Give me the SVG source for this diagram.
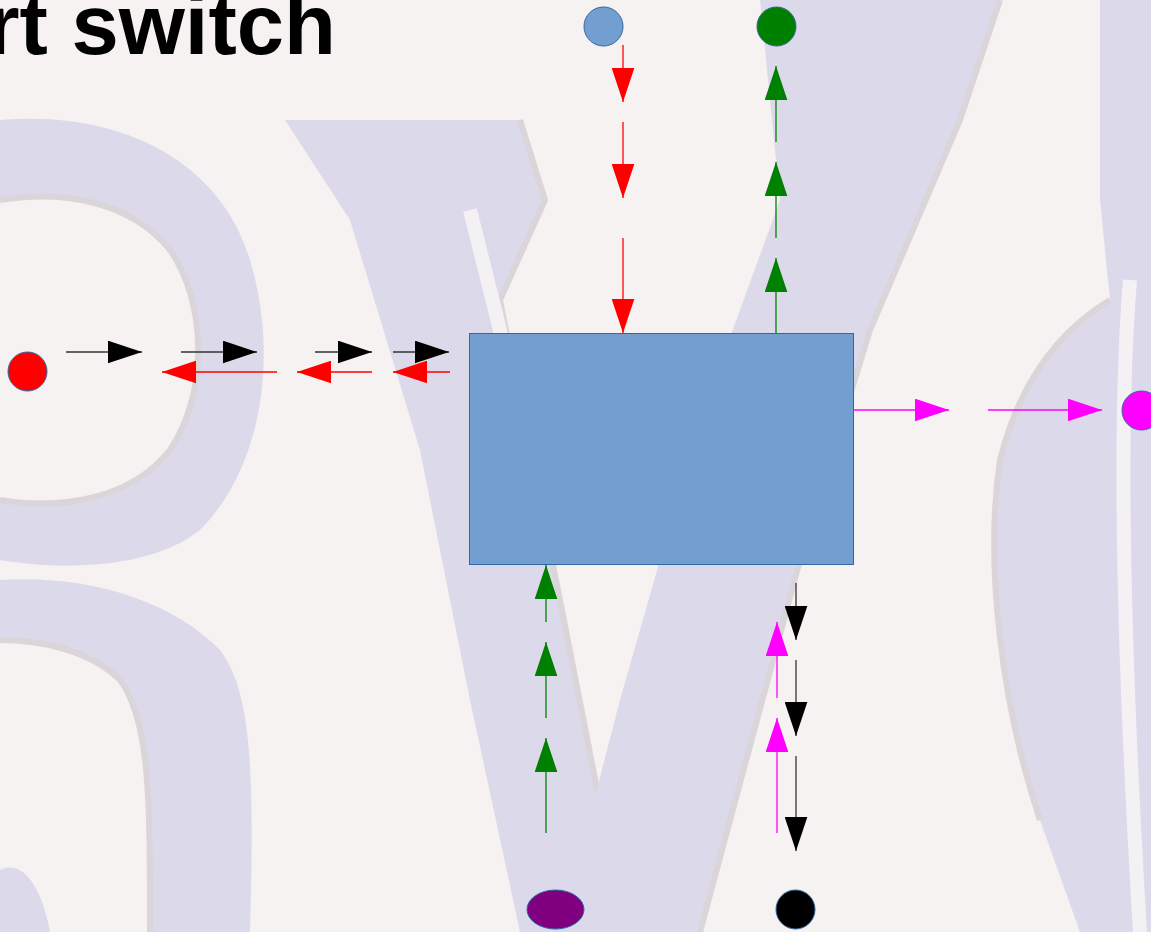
<svg xmlns="http://www.w3.org/2000/svg" width="1151" height="932" viewBox="0 0 1151 932">
<style>
.bg{fill:#dcd9ea}
.edge{fill:none;stroke:#d9d5d9;stroke-width:6}
.hl{fill:none;stroke:#f4f1f5;stroke-width:14}
.ln{stroke-width:1.3;fill:none}
.r{stroke:#ff0000;marker-end:url(#mr)}
.g{stroke:#008000;marker-end:url(#mg)}
.k{stroke:#333333;marker-end:url(#mk)}
.m{stroke:#ff00ff;marker-end:url(#mm)}
.node{stroke:#3465a4;stroke-width:1}
.title{font-family:"Liberation Sans",Arial,sans-serif;font-weight:bold;font-size:85px;fill:#000}
</style>
<defs>
<marker id="mr" markerUnits="userSpaceOnUse" markerWidth="34" markerHeight="23" viewBox="0 0 33 22" refX="33" refY="11" orient="auto"><path d="M0,0 L33,11 L0,22 z" fill="#ff0000"/></marker>
<marker id="mg" markerUnits="userSpaceOnUse" markerWidth="34" markerHeight="23" viewBox="0 0 33 22" refX="33" refY="11" orient="auto"><path d="M0,0 L33,11 L0,22 z" fill="#008000"/></marker>
<marker id="mk" markerUnits="userSpaceOnUse" markerWidth="34" markerHeight="23" viewBox="0 0 33 22" refX="33" refY="11" orient="auto"><path d="M0,0 L33,11 L0,22 z" fill="#000000"/></marker>
<marker id="mm" markerUnits="userSpaceOnUse" markerWidth="34" markerHeight="23" viewBox="0 0 33 22" refX="33" refY="11" orient="auto"><path d="M0,0 L33,11 L0,22 z" fill="#ff00ff"/></marker>
</defs>
<rect width="1151" height="932" fill="#f5f2f1"/>
<g id="watermark">
<path d="M0,120 C120,110 220,160 250,260 C280,360 260,470 200,530 C150,570 60,570 0,560 L0,500 C60,510 130,500 170,450 C210,390 205,300 170,250 C130,200 60,190 0,200 Z" class="bg"/>
<path d="M0,200 C60,190 130,200 170,250 C205,300 210,390 170,450 C130,500 60,510 0,500" class="edge"/>
<path d="M0,580 C90,575 170,600 220,650 C250,690 255,760 250,932 L150,932 C150,800 150,720 120,680 C90,650 40,640 0,640 Z" class="bg"/>
<path d="M0,870 C20,860 40,880 50,932 L0,932 Z" class="bg"/>
<path d="M0,640 C40,640 90,650 120,680 C150,720 150,800 150,932" class="edge"/>
<path d="M285,120 L520,120 L545,200 L500,300 L560,600 L625,932 L520,932 L470,700 L420,450 L350,220 Z" class="bg"/>
<path d="M520,120 L545,200 L500,300 L560,600 L625,932" class="edge"/>
<path d="M470,210 L500,330 L525,560" class="hl"/>
<path d="M760,0 L1000,0 L960,120 L870,330 L800,560 L700,932 L560,932 L620,700 L700,420 L780,200 Z" class="bg"/>
<path d="M1000,0 L960,120 L870,330 L800,560 L700,932" class="edge"/>
<path d="M1100,0 L1151,0 L1151,932 L1080,932 L1040,820 C1000,700 985,560 1000,460 C1020,380 1060,330 1110,300 L1100,200 Z" class="bg"/>
<path d="M1130,280 C1120,400 1120,600 1140,932" class="hl"/>
<path d="M1110,300 C1060,330 1020,380 1000,460 C985,560 1000,700 1040,820" class="edge"/>
</g>
<text class="title" x="336" y="54" text-anchor="end">rt switch</text>
<g id="connectors">
<line class="ln r" x1="623" y1="45" x2="623" y2="102"/>
<line class="ln r" x1="623" y1="122" x2="623" y2="198"/>
<line class="ln r" x1="623" y1="238" x2="623" y2="333"/>
<line class="ln g" x1="776" y1="142" x2="776" y2="66"/>
<line class="ln g" x1="776" y1="238" x2="776" y2="162"/>
<line class="ln g" x1="776" y1="333" x2="776" y2="258"/>
<line class="ln k" x1="66" y1="352" x2="142" y2="352"/>
<line class="ln k" x1="181" y1="352" x2="257" y2="352"/>
<line class="ln k" x1="315" y1="352" x2="372" y2="352"/>
<line class="ln k" x1="393" y1="352" x2="449" y2="352"/>
<line class="ln r" x1="277" y1="372" x2="162" y2="372"/>
<line class="ln r" x1="372" y1="372" x2="297" y2="372"/>
<line class="ln r" x1="450" y1="372" x2="393" y2="372"/>
<line class="ln m" x1="853" y1="410" x2="949" y2="410"/>
<line class="ln m" x1="988" y1="410" x2="1102" y2="410"/>
<line class="ln g" x1="546" y1="622" x2="546" y2="565"/>
<line class="ln g" x1="546" y1="718" x2="546" y2="642"/>
<line class="ln g" x1="546" y1="833" x2="546" y2="738"/>
<line class="ln k" x1="796" y1="583" x2="796" y2="640"/>
<line class="ln k" x1="796" y1="660" x2="796" y2="736"/>
<line class="ln k" x1="796" y1="756" x2="796" y2="851"/>
<line class="ln m" x1="777" y1="698" x2="777" y2="622"/>
<line class="ln m" x1="777" y1="833" x2="777" y2="718"/>
</g>
<g id="switch"><rect class="node" x="469.5" y="333.5" width="384" height="231" fill="#729fcf"/></g>
<g id="top-blue"><circle class="node" cx="603.5" cy="26.5" r="19.5" fill="#729fcf"/></g>
<g id="top-green"><circle class="node" cx="776.5" cy="26.5" r="19.5" fill="#008000"/></g>
<g id="left-red"><circle class="node" cx="27.5" cy="371.5" r="19.5" fill="#ff0000"/></g>
<g id="right-magenta"><circle class="node" cx="1141.5" cy="410.5" r="19.5" fill="#ff00ff"/></g>
<g id="bottom-purple"><ellipse class="node" cx="555.5" cy="909.5" rx="28.5" ry="19.5" fill="#800080"/></g>
<g id="bottom-black"><circle class="node" cx="795.5" cy="909.5" r="19.5" fill="#000000"/></g>
</svg>
